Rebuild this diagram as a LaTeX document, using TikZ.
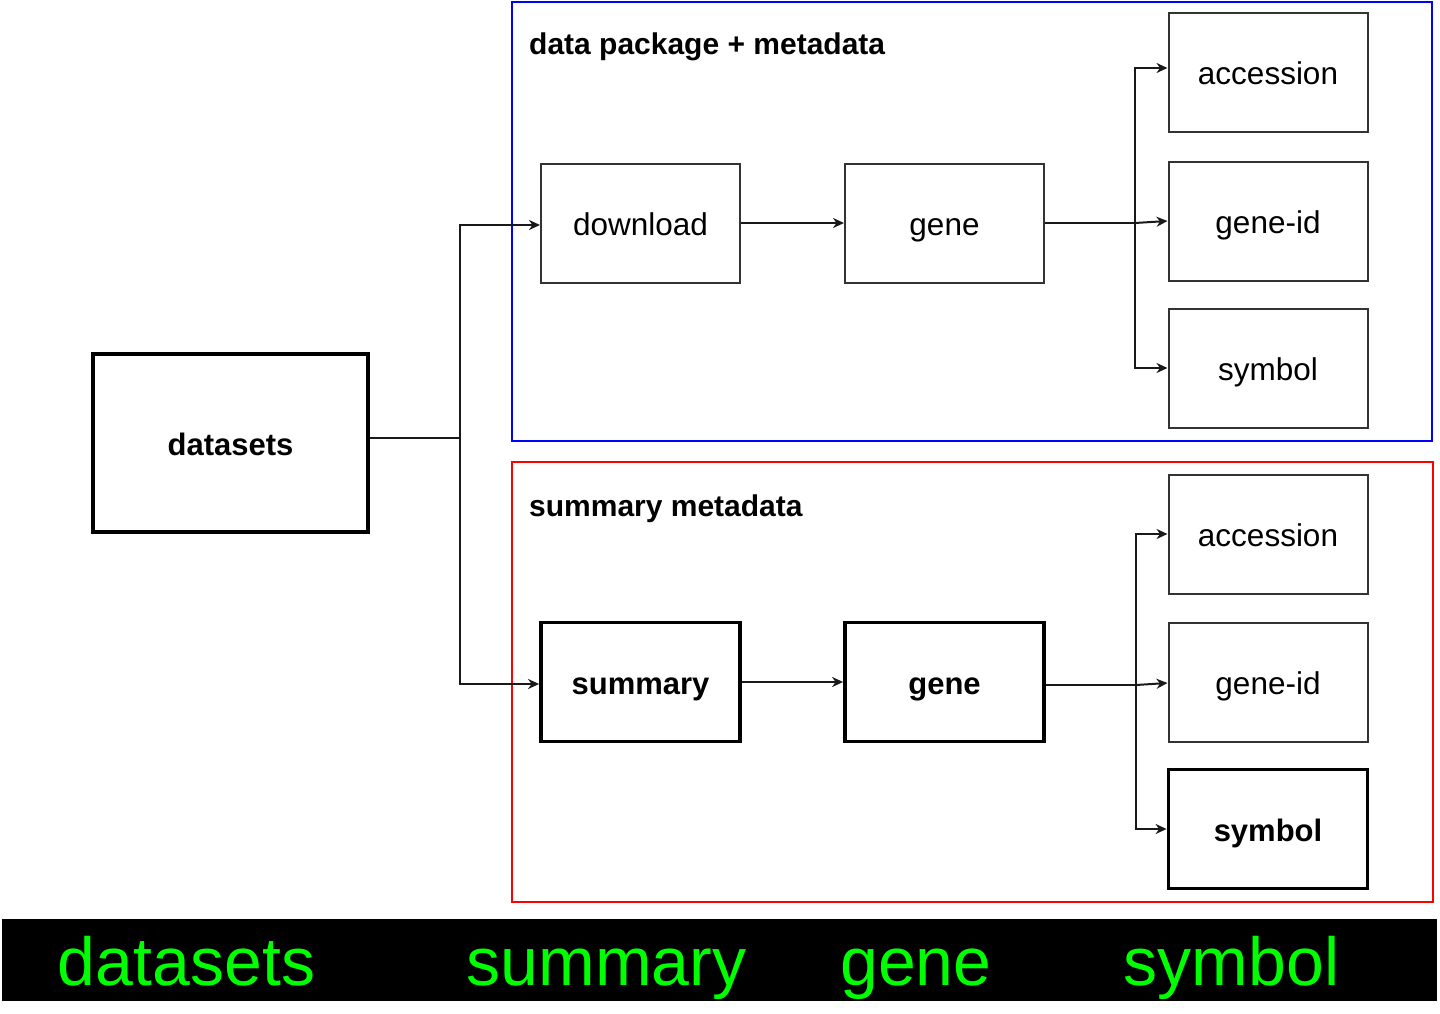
\documentclass[tikz,border=0pt]{standalone}
\usepackage{fontspec}
\setmainfont{Liberation Sans}
\usetikzlibrary{arrows.meta}
\definecolor{bandgreen}{RGB}{0,255,0}
\begin{document}
\begin{tikzpicture}[x=1pt,y=-1pt,
  box/.style={draw=black!80, line width=2pt, minimum width=199pt, minimum height=119pt, inner sep=0pt, text height=28pt, text depth=4pt, font=\fontsize{31.5}{37}\selectfont},
  boldbox/.style={box, draw=black, line width=3.8pt, font=\fontsize{31}{37}\selectfont\bfseries},
  conn/.style={line width=2pt, draw=black!90},
  arr/.style={conn, -{Stealth[length=11pt,width=10pt,inset=3.5pt]}},
  title/.style={anchor=base west, font=\fontsize{30}{36}\selectfont\bfseries, inner sep=0pt},
  bandtext/.style={font=\fontsize{68}{80}\selectfont, text=bandgreen, inner sep=0pt, anchor=base}
]
\useasboundingbox (0,0) rectangle (1440,1014);

% frames
\draw[draw=blue, line width=1.8pt] (512,2) rectangle (1432,441);
\draw[draw=red, line width=1.8pt] (512,462) rectangle (1433,902);
\node[title] (t1) at (529,55) {data package + metadata};
\node[title] (t2) at (529,516) {summary metadata};

% nodes
\node[boldbox, minimum width=275pt, minimum height=178pt] (ds) at (230.5,443) {datasets};
\node[box] (dl) at (640.5,223) {download};
\node[box] (g1) at (944.5,223) {gene};
\node[box] (acc1) at (1268,73) {accession};
\node[box] (gid1) at (1268,221) {gene-id};
\node[box] (sym1) at (1268,368) {symbol};

\node[boldbox] (sum) at (640.5,682) {summary};
\node[boldbox] (g2) at (944.5,682) {gene};
\node[box] (acc2) at (1268,534) {accession};
\node[box] (gid2) at (1268,682) {gene-id};
\node[boldbox] (sym2) at (1268,829) {symbol};

% connectors
\draw[conn] ([yshift=5pt]ds.east) -- ++(90,0) coordinate (j);
\draw[arr] (j) |- ([yshift=-2pt]dl.west);
\draw[arr] (j) |- ([yshift=-2pt]sum.west);
\draw[arr] (dl) -- (g1);
\draw[arr] (sum) -- (g2);

\draw[conn] (g1.east) -- ++(90,0) coordinate (b1);
\draw[arr] (b1) -- (gid1.west);
\draw[arr] (b1) |- ([yshift=5pt]acc1.west);
\draw[arr] (b1) |- (sym1.west);

\draw[conn] ([yshift=-3pt]g2.east) -- ++(90,0) coordinate (b2);
\draw[arr] (b2) -- ([yshift=-1pt]gid2.west);
\draw[arr] (b2) |- (acc2.west);
\draw[arr] (b2) |- (sym2.west);

% band
\fill[black] (2,919) rectangle (1437,1001);
\node[bandtext] (l1) at (186.5,985) {datasets};
\node[bandtext] (l2) at (606.5,985) {summary};
\node[bandtext] (l3) at (916,985) {gene};
\node[bandtext] (l4) at (1231.5,985) {symbol};
\end{tikzpicture}
\end{document}
